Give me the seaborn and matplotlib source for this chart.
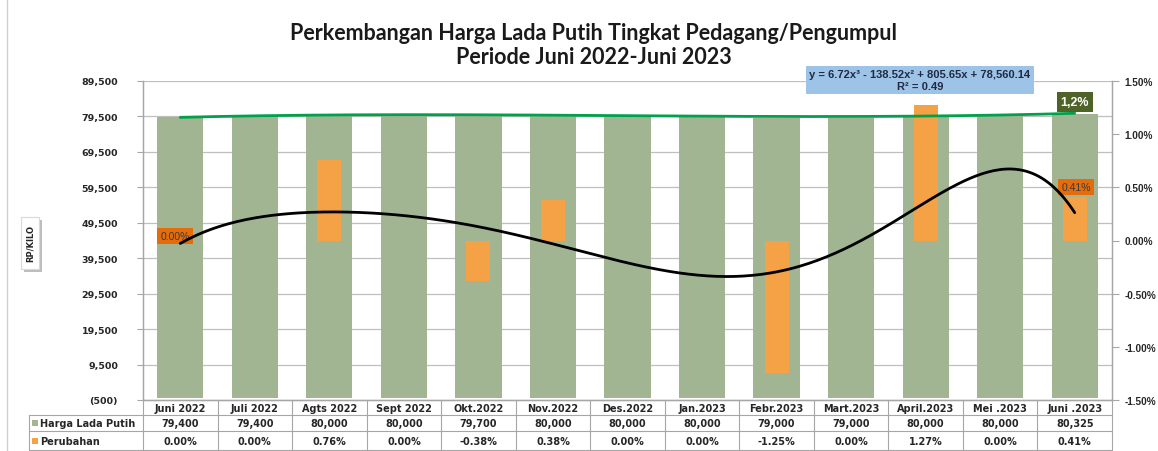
import numpy as np
import matplotlib
matplotlib.use("Agg")
import matplotlib.pyplot as plt
import seaborn as sns
from matplotlib.patches import Rectangle
from matplotlib.lines import Line2D

sns.set_theme(style="white")
plt.rcParams['font.family'] = ['Liberation Sans', 'DejaVu Sans']

months = ["Juni 2022", "Juli 2022", "Agts 2022", "Sept 2022", "Okt.2022", "Nov.2022",
          "Des.2022", "Jan.2023", "Febr.2023", "Mart.2023", "April.2023", "Mei .2023", "Juni .2023"]
harga = [79400, 79400, 80000, 80000, 79700, 80000, 80000, 80000, 79000, 79000, 80000, 80000, 80325]
perubahan = [0.00, 0.00, 0.76, 0.00, -0.38, 0.38, 0.00, 0.00, -1.25, 0.00, 1.27, 0.00, 0.41]
harga_labels = ["79,400", "79,400", "80,000", "80,000", "79,700", "80,000", "80,000",
                "80,000", "79,000", "79,000", "80,000", "80,000", "80,325"]
perubahan_labels = ["0.00%", "0.00%", "0.76%", "0.00%", "-0.38%", "0.38%", "0.00%",
                    "0.00%", "-1.25%", "0.00%", "1.27%", "0.00%", "0.41%"]
series_names = ["Harga Lada Putih", "Perubahan"]
left_ticks = list(range(-500, 89501, 10000))
right_ticks = [-1.5, -1.0, -0.5, 0.0, 0.5, 1.0, 1.5]

W, H = 1158, 452
fig = plt.figure(figsize=(W / 100, H / 100), dpi=100)

GREEN = "#A2B592"
ORANGE = "#F5A246"
DARK_OR = "#E46C0A"
TXT = "#262626"
TFONT = "DejaVu Sans"

ax_l, ax_r, ax_t, ax_b = 143, 1112, 82, 401
ax = fig.add_axes([ax_l / W, 1 - ax_b / H, (ax_r - ax_l) / W, (ax_b - ax_t) / H])
ax2 = ax.twinx()

sns.barplot(x=months, y=harga, ax=ax, color=GREEN, width=0.62, saturation=1,
            linewidth=0, edgecolor="none", zorder=2)
sns.barplot(x=months, y=perubahan, ax=ax2, color=ORANGE, width=0.32, saturation=1,
            linewidth=0, edgecolor="none", zorder=2)

ax.set_xlim(-0.5, 12.5)
ax2.set_xlim(-0.5, 12.5)
ax.set_ylim(-500, 89500)
ax2.set_ylim(-1.5, 1.5)
ax.set_yticks(left_ticks)
ax.set_yticklabels(["(500)" if v < 0 else f"{v:,}" for v in left_ticks],
                   fontsize=6.8, fontweight="bold", color=TXT, family=TFONT)
ax2.set_yticks(right_ticks)
ax2.set_yticklabels([f"{v:.2f}%" for v in right_ticks], fontsize=7.2, fontweight="bold",
                    color=TXT, family="Liberation Sans")
for a in (ax, ax2):
    a.set_xticks([])
    a.set_xlabel("")
    a.set_ylabel("")
ax.yaxis.grid(True, color="#BFBFBF", linewidth=0.9)
ax.set_axisbelow(True)
ax.tick_params(axis="y", length=4, width=0.8, color="#A6A6A6", pad=14, left=True)
ax2.tick_params(axis="y", length=5, width=0.8, color="#A6A6A6", pad=4, right=True)
for a in (ax, ax2):
    a.spines["top"].set_visible(False)
    for s in ("left", "right", "bottom"):
        a.spines[s].set_color("#A6A6A6")
        a.spines[s].set_linewidth(0.9)

# trendlines (polynomial fits of the data, as in Excel)
xs = np.arange(1, 14)
xx = np.linspace(1, 13, 300)
c3 = np.polyfit(xs, harga, 3)
ax2.plot(xx - 1, np.polyval(c3, xx), color="#00A14B", lw=2, transform=ax.transData, zorder=5)
c6 = np.polyfit(xs, perubahan, 6)
ax2.plot(xx - 1, np.polyval(c6, xx), color="black", lw=2, zorder=5)

# data labels
ax2.text(0 - 0.07, 0.04, perubahan_labels[0], ha="center", va="center", fontsize=7.5, color="#3A3A3A",
         bbox=dict(boxstyle="square,pad=0.3", fc=DARK_OR, ec="none"), zorder=4)
ax2.text(12 + 0.02, 0.50, perubahan_labels[12], ha="center", va="center", fontsize=7.5, color="#3A3A3A",
         bbox=dict(boxstyle="square,pad=0.3", fc=DARK_OR, ec="none"), zorder=4)
ax.text(12, 83600, "1,2%", ha="center", va="center", fontsize=9, fontweight="bold", color="white",
        bbox=dict(boxstyle="square,pad=0.3", fc="#4F6228", ec="none"), zorder=6)

# equation box
fig.text(920 / W, 1 - 81 / H, "y = 6.72x³ - 138.52x² + 805.65x + 78,560.14\nR² = 0.49",
         ha="center", va="center", fontsize=8, fontweight="bold", color="#1F2A44", linespacing=1.15,
         bbox=dict(boxstyle="square,pad=0.3", fc="#9DC3E6", ec="none"))

# titles
fig.text(594 / W, 1 - 33 / H, "Perkembangan Harga Lada Putih Tingkat Pedagang/Pengumpul",
         ha="center", va="center", fontsize=15.5, fontweight="bold", color="#1A1A1A", family="Lato")
fig.text(594 / W, 1 - 57 / H, "Periode Juni 2022-Juni 2023",
         ha="center", va="center", fontsize=15.5, fontweight="bold", color="#1A1A1A", family="Lato")

# overlay for table / frame
ov = fig.add_axes([0, 0, 1, 1], zorder=-1)
ov.set_xlim(0, W)
ov.set_ylim(H, 0)
ov.axis("off")
ov.add_line(Line2D([7, 7], [0, H], color="#D0D0D0", lw=1))
# y label box with shadow
ov.add_patch(Rectangle((24, 221), 18, 52, fc="#BDBDBD", ec="none"))
ov.add_patch(Rectangle((21, 218), 18, 52, fc="white", ec="#D9D9D9", lw=0.8))
ov.text(30, 244, "RP/KILO", rotation=90, ha="center", va="center", fontsize=6,
        fontweight="bold", color=TXT, family=TFONT)

colw = (ax_r - ax_l) / 13
rows_y = [401, 416, 432, 451]
gc = "#A6A6A6"
for k in range(14):
    xk = ax_l + k * colw
    ov.add_line(Line2D([xk, xk], [rows_y[0], rows_y[3]], color=gc, lw=0.8))
ov.add_line(Line2D([29, 29], [rows_y[1], rows_y[3]], color=gc, lw=0.8))
ov.add_line(Line2D([ax_l, ax_r], [rows_y[0], rows_y[0]], color=gc, lw=0.8))
for yy in rows_y[1:]:
    ov.add_line(Line2D([29, ax_r], [yy, yy], color=gc, lw=0.8))
for i in range(13):
    cx = ax_l + (i + 0.5) * colw
    ov.text(cx, (rows_y[0] + rows_y[1]) / 2 + 0.5, months[i], ha="center", va="center",
            fontsize=7, fontweight="bold", color=TXT, family=TFONT)
    ov.text(cx, (rows_y[1] + rows_y[2]) / 2 + 0.5, harga_labels[i], ha="center", va="center",
            fontsize=7, fontweight="bold", color=TXT, family=TFONT)
    ov.text(cx, (rows_y[2] + rows_y[3]) / 2 + 0.5, perubahan_labels[i], ha="center", va="center",
            fontsize=7, fontweight="bold", color=TXT, family=TFONT)
for j, (name, col) in enumerate(zip(series_names, [GREEN, ORANGE])):
    yc = (rows_y[j + 1] + rows_y[j + 2]) / 2
    ov.add_patch(Rectangle((32, yc - 3), 6, 6, fc=col, ec="none"))
    ov.text(40, yc + 0.5, name, ha="left", va="center", fontsize=7, fontweight="bold",
            color=TXT, family=TFONT)

fig.savefig("out.png", dpi=100)
